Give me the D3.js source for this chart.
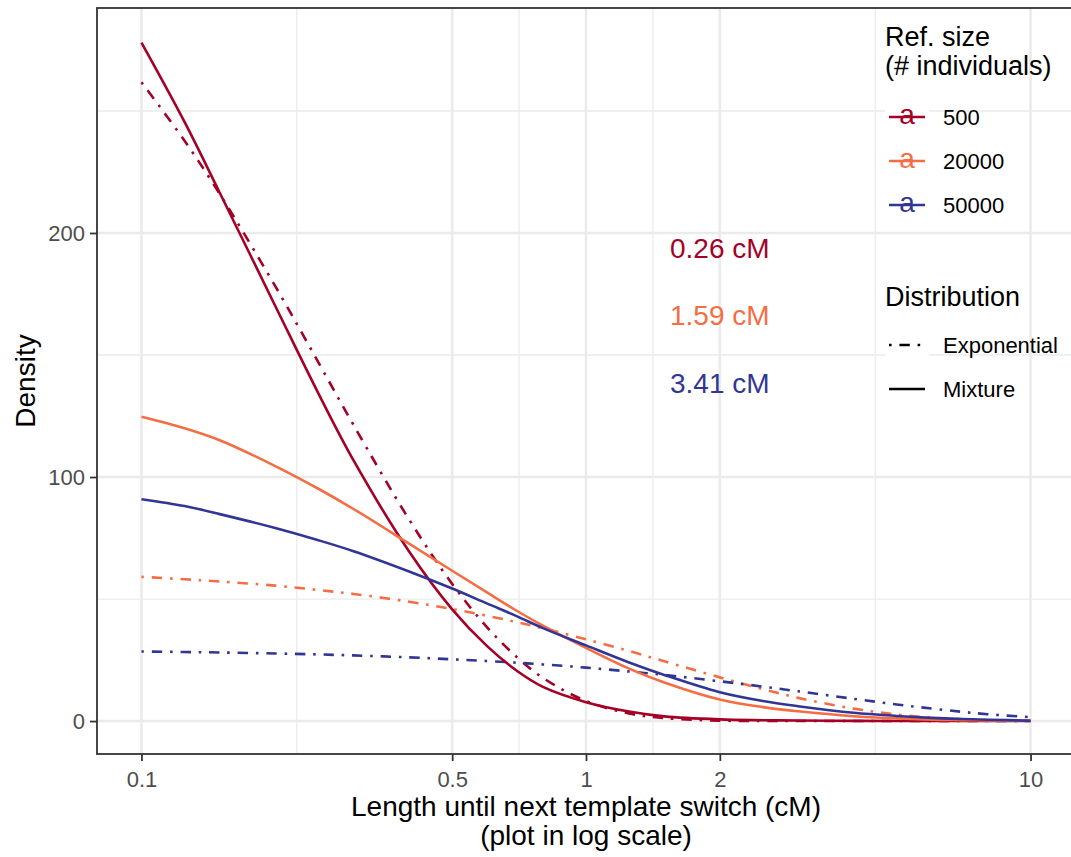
<!DOCTYPE html>
<html>
<head>
<meta charset="utf-8">
<script src="https://cdn.jsdelivr.net/npm/d3@7.9.0/dist/d3.min.js"></script>
<style>
  body { margin: 0; background: #fff; }
  svg { display: block; font-family: "Liberation Sans", Arial, Helvetica, sans-serif; }
</style>
</head>
<body>
<svg id="chart" width="1071" height="857"></svg>
<script>
const lengthCM = [0.1, 0.125, 0.15, 0.2, 0.25, 0.3, 0.4, 0.5, 0.6, 0.7, 0.8, 1, 1.25, 1.5, 2, 2.5, 3, 4, 5, 6, 7, 8, 10];

// density values, exponential fits
const exp500   = [261.8, 237.8, 216.0, 178.2, 147.0, 121.3, 82.6, 56.2, 38.3, 26.1, 17.7, 8.2, 3.1, 1.2, 0.18, 0.03, 0.004, 0, 0, 0, 0, 0, 0];
const exp20000 = [59.1, 58.1, 57.2, 55.5, 53.7, 52.1, 48.9, 45.9, 43.1, 40.5, 38.0, 33.5, 28.7, 24.5, 17.9, 13.1, 9.5, 5.1, 2.7, 1.4, 0.77, 0.41, 0.12];
const exp50000 = [28.5, 28.3, 28.1, 27.7, 27.3, 26.9, 26.1, 25.3, 24.6, 23.9, 23.2, 21.9, 20.3, 18.9, 16.3, 14.1, 12.2, 9.1, 6.8, 5.1, 3.8, 2.8, 1.6];

// density values, mixture fits
const mix500   = [278, 245.5, 216.5, 170.1, 134.3, 106.8, 69.5, 45.8, 30.6, 20.5, 14.0, 7.75, 3.9, 1.9, 0.68, 0.35, 0.2, 0.08, 0.04, 0.02, 0.01, 0.01, 0];
const mix20000 = [124.7, 120.0, 115.1, 104.5, 95.2, 86.9, 72.7, 61.6, 52.6, 45.1, 39.1, 30.0, 21.5, 15.8, 8.8, 5.7, 4.0, 2.0, 1.1, 0.6, 0.4, 0.25, 0.1];
const mix50000 = [90.9, 88.1, 84.8, 79.1, 74.1, 69.6, 61.3, 54.3, 48.1, 42.9, 38.1, 31.0, 24.0, 18.9, 11.8, 8.2, 6.1, 3.4, 2.1, 1.3, 0.85, 0.55, 0.15];

const refSizes = ["500", "20000", "50000"];
const refColors = ["#A50026", "#F46D43", "#313695"];
const distNames = ["Exponential", "Mixture"];

// mean segment length labels
const meanLabels = ["0.26 cM", "1.59 cM", "3.41 cM"];
const meanLabelX = [2, 2, 2];
const meanLabelY = [194, 166.4, 138.5];

const xTicks = [0.1, 0.5, 1, 2, 10];
const xTickLabels = ["0.1", "0.5", "1", "2", "10"];
const yTicks = [0, 100, 200];
const yMinor = [50, 150, 250];

const series = [
  { size: "500",   dist: "Exponential", values: exp500 },
  { size: "20000", dist: "Exponential", values: exp20000 },
  { size: "50000", dist: "Exponential", values: exp50000 },
  { size: "500",   dist: "Mixture", values: mix500 },
  { size: "20000", dist: "Mixture", values: mix20000 },
  { size: "50000", dist: "Mixture", values: mix50000 }
];

const svg = d3.select("#chart");
const panel = { left: 97, top: 8, right: 1075, bottom: 754 };

const x = d3.scaleLog().domain([Math.pow(10, -1.1), Math.pow(10, 1.1)]).range([panel.left, panel.right]);
const y = d3.scaleLinear().domain([-13.5, 292.2]).range([panel.bottom, panel.top]);
const color = d3.scaleOrdinal().domain(refSizes).range(refColors);

const lwd = 2.6;
const dotdash = [1, 3, 4, 3].map(d => d * lwd).join(",");
const dashFor = dist => dist === "Exponential" ? dotdash : null;

// minor x breaks: midpoints of the majors on the log scale
const xMinor = d3.pairs(xTicks).map(([a, b]) => Math.sqrt(a * b));

// grid
const grid = svg.append("g");
grid.selectAll(".ymin").data(yMinor).join("line")
  .attr("x1", panel.left).attr("x2", panel.right)
  .attr("y1", d => y(d)).attr("y2", d => y(d))
  .attr("stroke", "#EBEBEB").attr("stroke-width", 1.3);
grid.selectAll(".xmin").data(xMinor).join("line")
  .attr("y1", panel.top).attr("y2", panel.bottom)
  .attr("x1", d => x(d)).attr("x2", d => x(d))
  .attr("stroke", "#EBEBEB").attr("stroke-width", 1.3);
grid.selectAll(".ymaj").data(yTicks).join("line")
  .attr("x1", panel.left).attr("x2", panel.right)
  .attr("y1", d => y(d)).attr("y2", d => y(d))
  .attr("stroke", "#EBEBEB").attr("stroke-width", 2.6);
grid.selectAll(".xmaj").data(xTicks).join("line")
  .attr("y1", panel.top).attr("y2", panel.bottom)
  .attr("x1", d => x(d)).attr("x2", d => x(d))
  .attr("stroke", "#EBEBEB").attr("stroke-width", 2.6);

// curves
const line = d3.line()
  .x(d => x(d[0]))
  .y(d => y(Math.max(0, d[1])))
  .curve(d3.curveCatmullRom.alpha(0.5));

svg.append("g").selectAll("path")
  .data(series)
  .join("path")
  .attr("d", s => line(lengthCM.map((v, i) => [v, s.values[i]])))
  .attr("fill", "none")
  .attr("stroke", s => color(s.size))
  .attr("stroke-width", lwd)
  .attr("stroke-dasharray", s => dashFor(s.dist));

// mean labels
svg.append("g").selectAll("text")
  .data(meanLabels)
  .join("text")
  .attr("x", (d, i) => x(meanLabelX[i]))
  .attr("y", (d, i) => y(meanLabelY[i]) + 10)
  .attr("text-anchor", "middle")
  .attr("font-size", 28)
  .attr("fill", (d, i) => refColors[i])
  .text(d => d);

// panel border
svg.append("rect")
  .attr("x", panel.left).attr("y", panel.top)
  .attr("width", panel.right - panel.left).attr("height", panel.bottom - panel.top)
  .attr("fill", "none").attr("stroke", "#333333").attr("stroke-width", 1.8);

// axes
const xAxis = svg.append("g")
  .attr("transform", `translate(0,${panel.bottom})`)
  .call(d3.axisBottom(x).tickValues(xTicks).tickFormat((d, i) => xTickLabels[i]).tickSize(7).tickPadding(5));
const yAxis = svg.append("g")
  .attr("transform", `translate(${panel.left},0)`)
  .call(d3.axisLeft(y).tickValues(yTicks).tickSize(7).tickPadding(5));
[xAxis, yAxis].forEach(a => {
  a.select(".domain").remove();
  a.selectAll(".tick line").attr("stroke", "#333333").attr("stroke-width", 1.8);
  a.selectAll(".tick text").attr("fill", "#4D4D4D").attr("font-size", 22)
    .attr("font-family", "Liberation Sans, Arial, sans-serif");
});
xAxis.selectAll(".tick text").attr("dy", "0.95em");

// axis titles
const xTitle = svg.append("text")
  .attr("text-anchor", "middle")
  .attr("font-size", 28)
  .attr("fill", "#000");
xTitle.append("tspan").attr("x", (panel.left + panel.right) / 2).attr("y", 816)
  .text("Length until next template switch (cM)");
xTitle.append("tspan").attr("x", (panel.left + panel.right) / 2).attr("y", 845)
  .text("(plot in log scale)");

svg.append("text")
  .attr("transform", `translate(35,${(panel.top + panel.bottom) / 2}) rotate(-90)`)
  .attr("text-anchor", "middle")
  .attr("font-size", 28)
  .attr("fill", "#000")
  .text("Density");

// legends
const legend = svg.append("g");
const keyX = 885, keyW = 44, labelX = 943;

legend.append("text").attr("x", keyX).attr("y", 45.5)
  .attr("font-size", 27).attr("fill", "#000").text("Ref. size");
legend.append("text").attr("x", keyX).attr("y", 75)
  .attr("font-size", 27).attr("fill", "#000").text("(# individuals)");

const sizeRowY = [117, 161, 205];
refSizes.forEach((s, i) => {
  const cy = sizeRowY[i];
  legend.append("rect")
    .attr("x", keyX).attr("y", cy - keyW / 2).attr("width", keyW).attr("height", keyW)
    .attr("fill", "#fff");
  legend.append("line")
    .attr("x1", keyX + 4).attr("x2", keyX + 40).attr("y1", cy).attr("y2", cy)
    .attr("stroke", color(s)).attr("stroke-width", lwd);
  legend.append("text")
    .attr("x", keyX + 22).attr("y", cy + 7)
    .attr("text-anchor", "middle").attr("font-size", 28)
    .attr("fill", color(s)).text("a");
  legend.append("text")
    .attr("x", labelX).attr("y", cy + 8)
    .attr("font-size", 22).attr("fill", "#000").text(s);
});

legend.append("text")
  .attr("x", keyX).attr("y", 306)
  .attr("font-size", 27).attr("fill", "#000").text("Distribution");

const distRowY = [345, 389];
distNames.forEach((dn, i) => {
  const cy = distRowY[i];
  legend.append("rect")
    .attr("x", keyX).attr("y", cy - keyW / 2).attr("width", keyW).attr("height", keyW)
    .attr("fill", "#fff");
  legend.append("line")
    .attr("x1", keyX + 4).attr("x2", keyX + 40).attr("y1", cy).attr("y2", cy)
    .attr("stroke", "#000").attr("stroke-width", lwd)
    .attr("stroke-dasharray", dashFor(dn));
  legend.append("text")
    .attr("x", labelX).attr("y", cy + 8)
    .attr("font-size", 22).attr("fill", "#000").text(dn);
});
</script>
</body>
</html>
